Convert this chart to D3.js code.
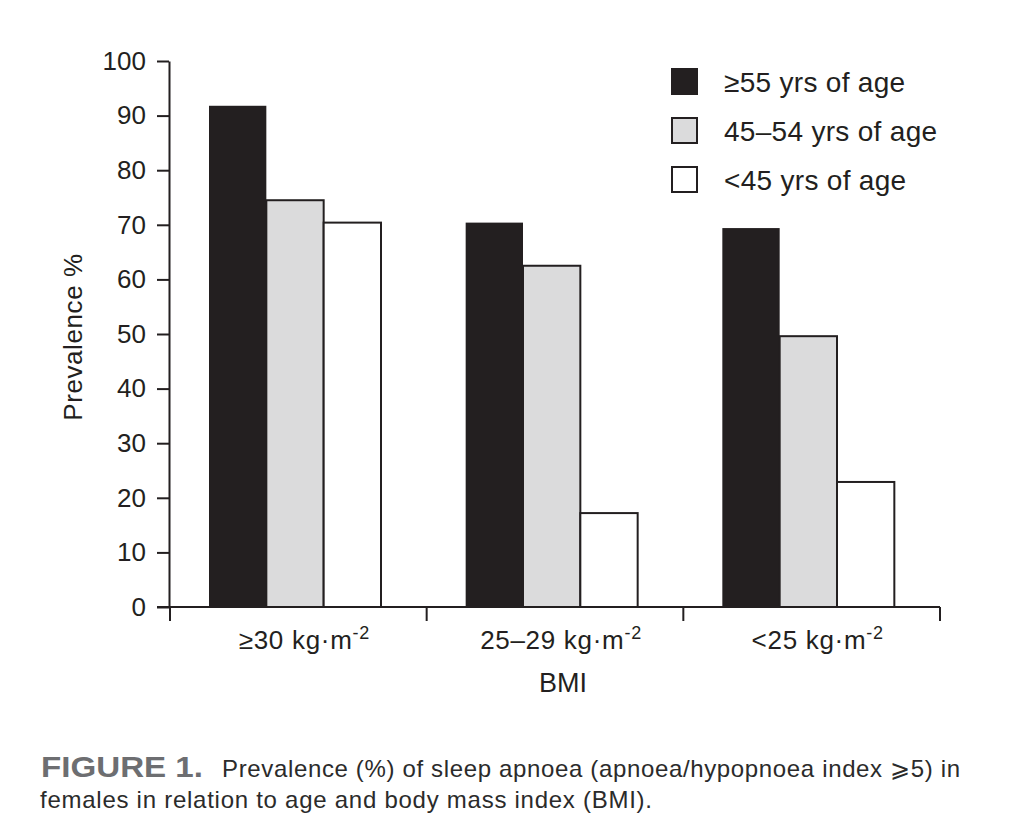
<!DOCTYPE html>
<html>
<head>
<meta charset="utf-8">
<script src="https://cdn.jsdelivr.net/npm/d3@7"></script>
<style>
  html, body { margin: 0; padding: 0; background: #fff; }
  svg { display: block; font-family: "Liberation Sans", Arial, Helvetica, sans-serif; }
</style>
</head>
<body>
<svg id="chart" width="1024" height="838"></svg>
<script>
// ---- data ----
const categories = ["≥30", "25–29", "<25"];
const seriesNames = ["≥55 yrs of age", "45–54 yrs of age", "<45 yrs of age"];
const ageGe55 = [91.8, 70.4, 69.4];
const age45to54 = [74.5, 62.5, 49.6];
const ageLt45 = [70.4, 17.2, 22.9];
const yTicks = [0, 10, 20, 30, 40, 50, 60, 70, 80, 90, 100];
const xTitle = "BMI";
const yTitle = "Prevalence %";
const captionBold = "FIGURE 1.";
const captionLine1 = "Prevalence (%) of sleep apnoea (apnoea/hypopnoea index ⩾5) in";
const captionLine2 = "females in relation to age and body mass index (BMI).";

const seriesValues = [ageGe55, age45to54, ageLt45];
const fills = ["#231f20", "#dbdbdc", "#ffffff"];
const ink = "#231f20";

const svg = d3.select("#chart");

const x0 = d3.scaleBand().domain(categories).range([170, 940]).paddingInner(0).paddingOuter(0);
const x1 = d3.scaleBand().domain(d3.range(seriesNames.length)).range([39, 211]).padding(0);
const y = d3.scaleLinear().domain([0, 100]).range([607, 61]);

// bars
const groups = svg.append("g").selectAll("g")
  .data(categories)
  .join("g")
  .attr("transform", d => `translate(${x0(d)},0)`);

groups.selectAll("rect")
  .data((c, ci) => seriesValues.map((vals, si) => ({ si, v: vals[ci] })))
  .join("rect")
  .attr("x", d => x1(d.si))
  .attr("y", d => y(d.v))
  .attr("width", x1.bandwidth())
  .attr("height", d => y(0) - y(d.v))
  .attr("fill", d => fills[d.si])
  .attr("stroke", ink)
  .attr("stroke-width", d => d.si === 0 ? 0 : 2);

// y axis
const yAxis = svg.append("g")
  .attr("transform", "translate(169,0)")
  .call(d3.axisLeft(y).tickValues(yTicks).tickSize(12).tickPadding(11).tickSizeOuter(0));
yAxis.select(".domain").attr("stroke", ink).attr("stroke-width", 2);
yAxis.selectAll(".tick line").attr("stroke", ink).attr("stroke-width", 2);
yAxis.selectAll(".tick text")
  .attr("fill", ink)
  .style("font-size", "26px")
  .style("font-family", "'Liberation Sans', Arial, sans-serif");

// x axis: baseline line and boundary ticks
const xAxisG = svg.append("g");
xAxisG.append("line")
  .attr("x1", 157).attr("x2", 940)
  .attr("y1", y(0)).attr("y2", y(0))
  .attr("stroke", ink).attr("stroke-width", 2);
const edges = categories.map(c => x0(c)).concat([x0(categories[categories.length - 1]) + x0.bandwidth()]);
xAxisG.selectAll("line.edge")
  .data(edges)
  .join("line")
  .attr("class", "edge")
  .attr("x1", d => d).attr("x2", d => d)
  .attr("y1", y(0)).attr("y2", y(0) + 14)
  .attr("stroke", ink).attr("stroke-width", 2);

// x labels
const xl = xAxisG.selectAll("text.xl")
  .data(categories)
  .join("text")
  .attr("class", "xl")
  .attr("x", d => x0(d) + x0.bandwidth() / 2 + 6)
  .attr("y", 649)
  .attr("text-anchor", "middle")
  .attr("fill", ink)
  .style("font-size", "26px")
  .style("letter-spacing", "0.7px");
xl.append("tspan").text(d => d + " kg·m");
xl.append("tspan").attr("dy", -10).style("font-size", "18px").text("-2");

// x title
svg.append("text")
  .attr("x", x0(categories[1]) + x0.bandwidth() / 2 + 8)
  .attr("y", 692)
  .attr("text-anchor", "middle")
  .attr("fill", ink)
  .style("font-size", "27px")
  .text(xTitle);

// y title
svg.append("text")
  .attr("transform", "translate(82,337) rotate(-90)")
  .attr("text-anchor", "middle")
  .attr("fill", ink)
  .style("font-size", "26px")
  .style("letter-spacing", "0.6px")
  .text(yTitle);

// legend
const legend = svg.append("g").selectAll("g")
  .data(seriesNames)
  .join("g")
  .attr("transform", (d, i) => `translate(672,${69 + i * 49})`);
legend.append("rect")
  .attr("width", 25).attr("height", 25)
  .attr("fill", (d, i) => fills[i])
  .attr("stroke", ink).attr("stroke-width", 2);
legend.append("text")
  .attr("x", 52).attr("y", 12.5).attr("dy", "0.36em")
  .attr("fill", ink)
  .style("font-size", "28px")
  .style("letter-spacing", "0.3px")
  .text(d => d);

// caption
svg.append("text")
  .attr("x", 41).attr("y", 777)
  .attr("fill", "#6d6e71")
  .style("font-size", "30px").style("font-weight", "bold")
  .attr("textLength", 162).attr("lengthAdjust", "spacingAndGlyphs")
  .text(captionBold);
svg.append("text")
  .attr("x", 222).attr("y", 777)
  .attr("fill", "#2b2b2b")
  .style("font-size", "24px")
  .attr("textLength", 738)
  .text(captionLine1);
svg.append("text")
  .attr("x", 40).attr("y", 808)
  .attr("fill", "#2b2b2b")
  .style("font-size", "24px")
  .attr("textLength", 612)
  .text(captionLine2);
</script>
</body>
</html>
